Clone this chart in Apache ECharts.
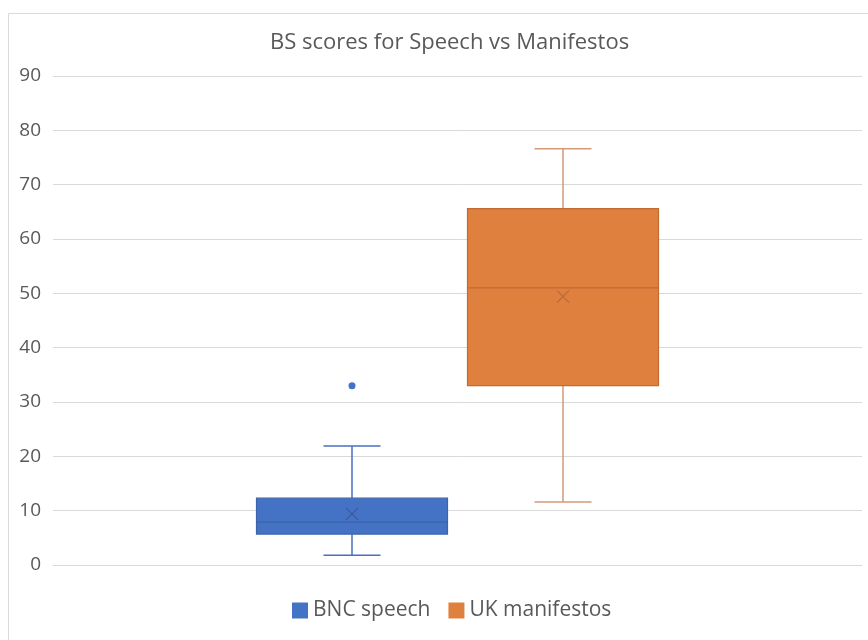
<!DOCTYPE html>
<html lang="en">
<head>
    <meta charset="UTF-8">
    <script src="https://cdn.jsdelivr.net/npm/echarts@6/dist/echarts.min.js"></script>
    <title>BS scores</title>
    <style>
        html, body { margin: 0; padding: 0; background: #fff; }
        #chart { width: 868px; height: 640px; }
    </style>
</head>
<body>
    <div id="chart"></div>
</body>
</html>
<script>
    // data
    var seriesNames = ['BNC speech', 'UK manifestos'];
    var seriesColors = ['#4472C4', '#E0803F'];
    var borderColors = ['#3D63AA', '#C26A33'];
    var whiskerColors = ['#4A6FBF', '#D49A78'];
    var meanColors = ['#3A5A9C', '#B8683A'];
    // [min, Q1, median, Q3, max]
    var bncBox = [1.8, 5.7, 7.9, 12.3, 21.9];
    var ukBox = [11.6, 33.0, 51.0, 65.6, 76.6];
    var boxes = [bncBox, ukBox];
    var means = [9.4, 49.4];
    var bncOutliers = [33.0];
    var outliers = [bncOutliers, []];

    var font = '"Open Sans", Lato, sans-serif';
    var grey = '#595959';
    var gridTop = 76, gridBottom = 75;
    var boxCenters = [352, 563];
    var halfBand = 105;
    var boxHalf = 95.5, capHalf = 28.5;

    var chart = echarts.init(document.getElementById('chart'));

    var grids = [{ left: 53, right: 6, top: gridTop, bottom: gridBottom }];
    var xAxes = [{
        type: 'category', gridIndex: 0, data: [''],
        axisLine: { lineStyle: { color: '#d9d9d9' } },
        axisTick: { show: false }, axisLabel: { show: false }
    }];
    var yAxes = [{
        type: 'value', gridIndex: 0, min: 0, max: 90, interval: 10,
        axisLine: { show: false }, axisTick: { show: false },
        axisLabel: { color: grey, fontSize: 19, fontFamily: font, margin: 12 },
        splitLine: { lineStyle: { color: '#d9d9d9', width: 1 } }
    }];
    var series = [];

    function makeRender(i) {
        return function (params, api) {
            var x = api.value(0);
            var pLo = api.coord([x, api.value(1)]);
            var pQ1 = api.coord([x, api.value(2)]);
            var pMed = api.coord([x, api.value(3)]);
            var pQ3 = api.coord([x, api.value(4)]);
            var pHi = api.coord([x, api.value(5)]);
            var cx = pLo[0];
            var wStyle = { stroke: whiskerColors[i], lineWidth: 1.5 };
            var bStyle = { stroke: borderColors[i], lineWidth: 1.2 };
            return {
                type: 'group',
                children: [
                    { type: 'line', shape: { x1: cx, y1: pLo[1], x2: cx, y2: pQ1[1] }, style: wStyle },
                    { type: 'line', shape: { x1: cx, y1: pQ3[1], x2: cx, y2: pHi[1] }, style: wStyle },
                    { type: 'line', shape: { x1: cx - capHalf, y1: pLo[1], x2: cx + capHalf, y2: pLo[1] }, style: wStyle },
                    { type: 'line', shape: { x1: cx - capHalf, y1: pHi[1], x2: cx + capHalf, y2: pHi[1] }, style: wStyle },
                    {
                        type: 'rect',
                        shape: { x: cx - boxHalf, y: pQ3[1], width: boxHalf * 2, height: pQ1[1] - pQ3[1] },
                        style: { fill: seriesColors[i], stroke: borderColors[i], lineWidth: 1.2 }
                    },
                    { type: 'line', shape: { x1: cx - boxHalf, y1: pMed[1], x2: cx + boxHalf, y2: pMed[1] }, style: bStyle }
                ]
            };
        };
    }

    boxes.forEach(function (box, i) {
        var g = i + 1;
        grids.push({ left: boxCenters[i] - halfBand, width: halfBand * 2, top: gridTop, bottom: gridBottom });
        xAxes.push({ type: 'category', gridIndex: g, data: [seriesNames[i]], show: false });
        yAxes.push({ type: 'value', gridIndex: g, min: 0, max: 90, show: false, splitLine: { show: false } });
        series.push({
            name: seriesNames[i],
            type: 'custom',
            xAxisIndex: g, yAxisIndex: g,
            itemStyle: { color: seriesColors[i] },
            encode: { x: 0, y: [1, 2, 3, 4, 5] },
            renderItem: makeRender(i),
            data: [[0].concat(box)]
        });
        series.push({
            name: 'mean' + i,
            type: 'scatter',
            xAxisIndex: g, yAxisIndex: g,
            symbol: 'path://M0,0L10,10M10,0L0,10',
            symbolSize: 12,
            itemStyle: { color: 'none', borderColor: meanColors[i], borderWidth: 1.2, opacity: 1 },
            data: [[0, means[i]]],
            z: 5
        });
        series.push({
            name: 'outlier' + i,
            type: 'scatter',
            xAxisIndex: g, yAxisIndex: g,
            symbol: 'circle',
            symbolSize: 7,
            itemStyle: { color: seriesColors[i], opacity: 1 },
            data: outliers[i].map(function (v) { return [0, v]; })
        });
    });

    chart.setOption({
        animation: false,
        title: {
            text: 'BS scores for Speech vs Manifestos',
            left: 265, top: 27,
            textStyle: { color: grey, fontSize: 22, fontWeight: 'normal', fontFamily: font }
        },
        legend: {
            data: seriesNames.map(function (n, i) {
                return { name: n, icon: 'rect', itemStyle: { color: seriesColors[i], borderWidth: 0 } };
            }),
            bottom: 14, left: 287,
            itemWidth: 16, itemHeight: 16, itemGap: 18,
            textStyle: { color: grey, fontSize: 21, fontFamily: font }
        },
        graphic: [{
            type: 'rect',
            shape: { x: 8.5, y: 13.5, width: 900, height: 700 },
            style: { fill: 'none', stroke: '#d9d9d9', lineWidth: 1 },
            silent: true
        }],
        grid: grids,
        xAxis: xAxes,
        yAxis: yAxes,
        series: series
    });
</script>
